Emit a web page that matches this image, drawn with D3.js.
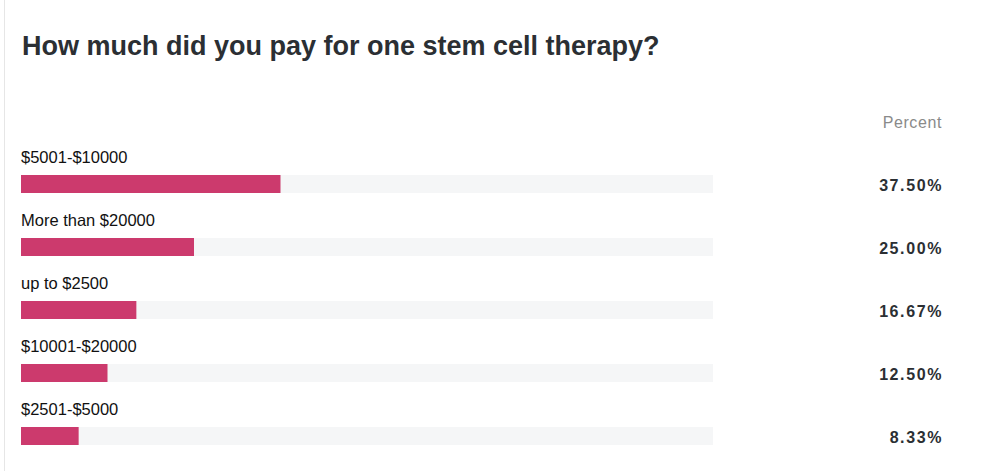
<!DOCTYPE html>
<html><head><meta charset="utf-8">
<script src="https://cdn.jsdelivr.net/npm/d3@7"></script>
<style>body{margin:0;background:#fff;font-family:"Helvetica Neue",Arial,"Liberation Sans",sans-serif;}</style>
</head><body><svg id="c" width="1000" height="471"></svg>
<script>
const categories=["$5001-$10000","More than $20000","up to $2500","$10001-$20000","$2501-$5000"];
const values=[37.5,25.0,16.67,12.5,8.33];
const valueLabels=["37.50%","25.00%","16.67%","12.50%","8.33%"];
const svg=d3.select("#c");
svg.append("rect").attr("x",0).attr("y",0).attr("width",1000).attr("height",471).attr("fill","#fff");
svg.append("line").attr("x1",4.5).attr("x2",4.5).attr("y1",0).attr("y2",471).attr("stroke","#e6e6e6");
svg.append("text").attr("x",22).attr("y",55).attr("font-size",27).attr("font-weight",700).attr("fill","#2b2f33").text("How much did you pay for one stem cell therapy?");
svg.append("text").attr("x",942).attr("y",128).attr("text-anchor","end").attr("font-size",16).attr("letter-spacing",0.6).attr("fill","#8a8a8a").text("Percent");
const x=d3.scaleLinear().domain([0,100]).range([21,713]);
const y=d3.scaleBand().domain(categories).range([144,459]);
const g=svg.selectAll("g.row").data(categories).join("g").attr("transform",d=>`translate(0,${y(d)})`);
g.append("text").attr("x",21).attr("y",19).attr("font-size",16.5).attr("fill","#111").text(d=>d);
g.append("rect").attr("x",x(0)).attr("y",31).attr("width",x(100)-x(0)).attr("height",18).attr("fill","#f5f6f7");
g.append("rect").attr("x",x(0)).attr("y",31).attr("width",(d,i)=>x(values[i])-x(0)).attr("height",18).attr("fill","#cc3a6d");
g.append("text").attr("x",943).attr("y",47).attr("text-anchor","end").attr("font-size",16).attr("letter-spacing",1.6).attr("font-weight",700).attr("fill","#2b2f33").text((d,i)=>valueLabels[i]);
</script></body></html>
